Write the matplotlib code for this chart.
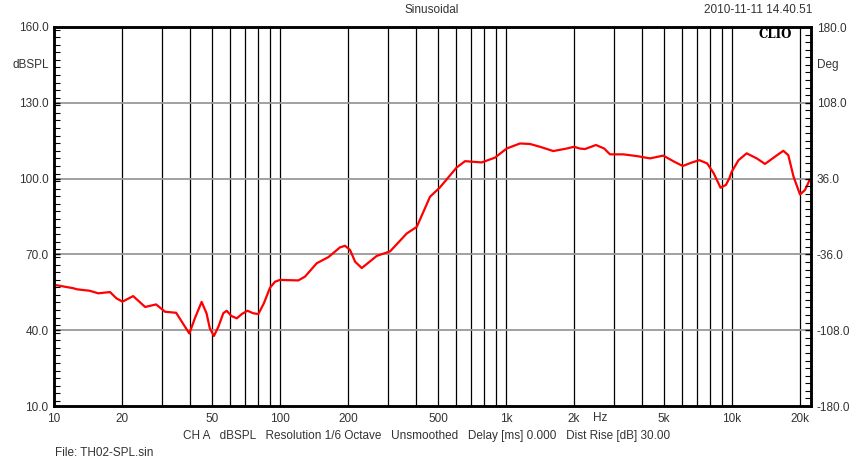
import matplotlib
matplotlib.use("Agg")
import matplotlib.pyplot as plt
from matplotlib.ticker import FixedLocator, MultipleLocator, NullFormatter

plt.rcParams['font.family'] = ['Liberation Sans', 'DejaVu Sans']

# SPL response (Hz, dBSPL)
freq = [10, 10.1, 12.2, 12.6, 14.4, 15.7, 17.7, 18.9, 20.1, 22.4, 25.3, 28.3,
        31.0, 34.7, 39.7, 42.0, 45.0, 47.3, 48.9, 51.0, 53.4, 56.1, 58.1, 61.0,
        64.4, 67.8, 71.7, 76.2, 80.2, 84.8, 90.3, 95.1, 100, 120.5, 129,
        145.4, 163.6, 184.4, 194, 204, 215, 230, 246, 268, 307, 364, 403, 461,
        510, 605, 659, 781, 894, 1007, 1153, 1277, 1414, 1619, 1856, 2000,
        2120, 2237, 2502, 2720, 2885, 3304, 3800, 4337, 4966, 5550, 6052, 6660,
        7168, 7770, 8300, 8900, 9400, 9735, 9970, 10690, 11614, 12870, 13996,
        15510, 16866, 17748, 18720, 20000, 21040, 22131]
spl = [57.6, 57.9, 56.6, 56.2, 55.6, 54.6, 55.1, 52.6, 51.3, 53.5, 49.2, 50.2,
       47.3, 46.9, 38.7, 44.7, 51.2, 46.7, 40.8, 37.7, 41.4, 46.7, 47.7, 45.6,
       44.7, 46.4, 47.7, 46.7, 46.4, 50.6, 56.8, 59.2, 59.9, 59.7, 61.2,
       66.5, 68.9, 72.8, 73.4, 71.8, 67.1, 64.6, 66.7, 69.4, 71.2, 78.3, 80.9,
       92.8, 96.5, 104.4, 106.9, 106.4, 108.3, 111.9, 113.9, 113.7, 112.6,
       110.9, 111.9, 112.6, 111.9, 111.7, 113.3, 111.9, 109.6, 109.6, 108.9,
       108.0, 109.1, 106.7, 105.0, 106.4, 107.3, 106.0, 102.1, 96.4, 97.5,
       100.1, 102.7, 107.3, 110.0, 108.0, 105.8, 108.7, 111.0, 109.3, 100.8,
       93.7, 95.5, 99.7]

x_ticks = [10, 20, 50, 100, 200, 500, 1000, 2000, 5000, 10000, 20000]
x_labels = ["10", "20", "50", "100", "200", "500", "1k", "2k", "5k", "10k", "20k"]
grid_freqs = ([20, 30, 40, 50, 60, 70, 80, 90] +
              [100, 200, 300, 400, 500, 600, 700, 800, 900] +
              [1000, 2000, 3000, 4000, 5000, 6000, 7000, 8000, 9000, 10000, 20000])
y_ticks = [10, 40, 70, 100, 130, 160]
deg_ticks = [-180, -108, -36, 36, 108, 180]

W, H = 867, 465
fig = plt.figure(figsize=(W / 100, H / 100), dpi=100)
ax = fig.add_axes([54 / W, 1 - 406 / H, 757 / W, 379 / H])

ax.set_xscale('log')
ax.set_xlim(10, 22370)
ax.set_ylim(10, 160)

for g in grid_freqs:
    ax.axvline(g, color='black', lw=0.9, zorder=1)
for yv in [40, 70, 100, 130]:
    ax.axhline(yv, color='#999999', lw=1.3, zorder=1)

ax.plot(freq, spl, color='#ff0000', lw=1.6, zorder=3,
        solid_joinstyle='round', solid_capstyle='round')

ax.xaxis.set_major_locator(FixedLocator(x_ticks))
ax.set_xticklabels(x_labels)
ax.xaxis.set_minor_formatter(NullFormatter())
ax.tick_params(axis='x', which='both', length=0, pad=5, labelsize=8.5,
               labelcolor='#333333')

ax.set_yticks(y_ticks)
ax.set_yticklabels(["%.1f" % v for v in y_ticks])
ax.yaxis.set_minor_locator(MultipleLocator(3))
ax.tick_params(axis='y', which='major', direction='in', length=4, width=1,
               pad=4, labelsize=8.5, labelcolor='#333333')
ax.tick_params(axis='y', which='minor', direction='in', length=4, width=0.8)

ax2 = ax.twinx()
ax2.set_ylim(-180, 180)
ax2.set_yticks(deg_ticks)
ax2.set_yticklabels(["%.1f" % v for v in deg_ticks])
ax2.yaxis.set_minor_locator(MultipleLocator(7.2))
ax2.tick_params(axis='y', which='major', direction='in', length=4, width=1,
                pad=4, labelsize=8.5, labelcolor='#333333')
ax2.tick_params(axis='y', which='minor', direction='in', length=4, width=0.8)

for a in (ax, ax2):
    for s in a.spines.values():
        s.set_color('black')
        s.set_linewidth(1.8)

fig.text(49 / W, 1 - 65 / H, "dBSPL", ha='right', va='center', fontsize=8.5, color='#333333')
fig.text(817 / W, 1 - 65 / H, "Deg", ha='left', va='center', fontsize=8.5, color='#333333')
fig.text(432 / W, 1 - 10 / H, "Sinusoidal", ha='center', va='center', fontsize=8.5, color='#333333')
fig.text(812 / W, 1 - 10 / H, "2010-11-11 14.40.51", ha='right', va='center', fontsize=8.5, color='#333333')
fig.text(775 / W, 1 - 34 / H, "CLIO", ha='center', va='center', fontsize=8.5,
         fontweight='bold', family='DejaVu Serif', color='black')
fig.text(600 / W, 1 - 418 / H, "Hz", ha='center', va='center', fontsize=8.5, color='#333333')
fig.text(427 / W, 1 - 436 / H,
         "CH A   dBSPL   Resolution 1/6 Octave   Unsmoothed   Delay [ms] 0.000   Dist Rise [dB] 30.00",
         ha='center', va='center', fontsize=8.5, color='#333333')
fig.text(55 / W, 1 - 453 / H, "File: TH02-SPL.sin", ha='left', va='center', fontsize=8.5, color='#333333')

fig.savefig("out.png", dpi=100)
